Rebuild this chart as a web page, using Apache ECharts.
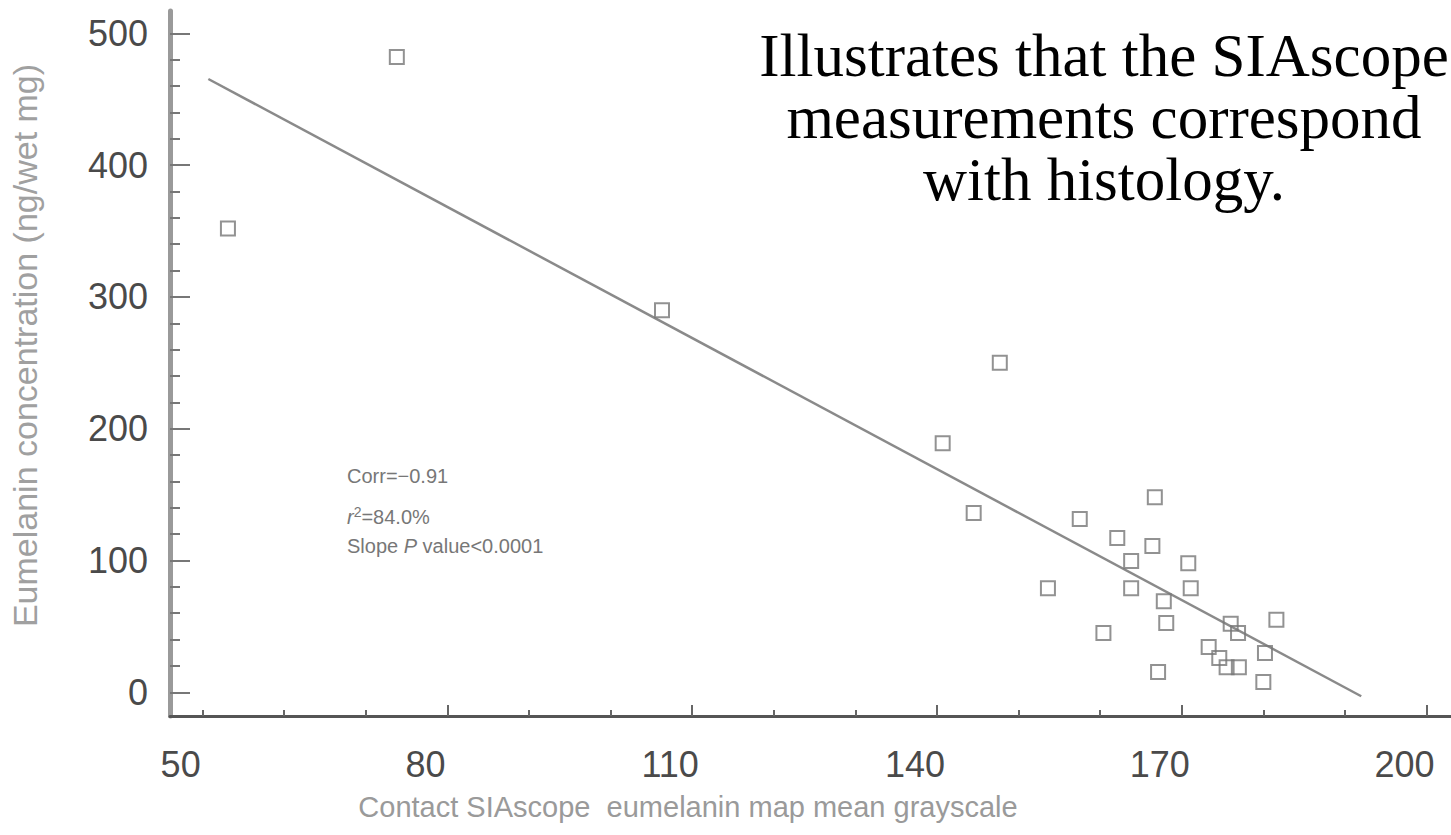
<!DOCTYPE html>
<html>
<head>
<meta charset="utf-8">
<title>SIAscope vs histology</title>
<script src="https://cdn.jsdelivr.net/npm/echarts@6/dist/echarts.min.js"></script>
<style>
  html, body { margin: 0; padding: 0; background: #fff; }
  #main { width: 1451px; height: 835px; }
</style>
</head>
<body>
<div id="main"></div>
<script>
// grayscale (x) and eumelanin concentration (y)
const xVals = [53.1, 73.8, 106.3, 147.7, 140.7, 144.5, 166.7, 157.5, 162.1, 166.4,
  163.8, 170.8, 153.6, 163.8, 171.1, 167.8, 168.1, 181.6, 160.4, 176.0,
  176.9, 173.3, 180.2, 174.6, 175.5, 177.0, 167.1, 180.0];
const yVals = [352, 482, 290, 250, 189, 136, 148, 131.5, 117, 111,
  99.6, 98, 79, 79, 79, 69, 52.6, 55, 45, 52,
  45, 34.4, 29.8, 26, 19, 19, 15.4, 7.8];

// fitted regression line ends
const fitX = [50.7, 192];
const fitY = [465.4, -3];

const xLabelValues = [50, 80, 110, 140, 170, 200];
const xMinorTicks = [50, 60, 70, 80, 90, 100, 110, 120, 130, 140, 150, 160, 170, 180, 190, 200];
const xMajorTicks = [80, 110, 140, 170, 200];
const yLabelValues = [0, 100, 200, 300, 400, 500];
const yMinorTicks = [0, 20, 40, 60, 80, 100, 120, 140, 160, 180, 200, 220, 240, 260, 280,
  300, 320, 340, 360, 380, 400, 420, 440, 460, 480, 500];

const stats = ['Corr=\u22120.91', '{i|r}{sup|2}=84.0%', 'Slope {i|P} value<0.0001'];
const titleLines = ['Illustrates that the SIAscope', 'measurements correspond', 'with histology.'];

const points = xVals.map(function (x, i) { return [x, yVals[i]]; });
const fitLine = fitX.map(function (x, i) { return [x, fitY[i]]; });

const chart = echarts.init(document.getElementById('main'), null, { renderer: 'svg' });

const sans = 'Liberation Sans, Arial, sans-serif';
const xRange = { min: 46, max: 203 };
const yRange = { min: -18, max: 517 };

const option = {
  backgroundColor: '#fff',
  animation: false,
  grid: { left: 170, right: 0, top: 11, bottom: 119 },
  xAxis: [{
    type: 'value',
    min: xRange.min, max: xRange.max,
    name: 'Contact SIAscope  eumelanin map mean grayscale',
    nameLocation: 'middle',
    nameGap: 76,
    nameTextStyle: { color: '#9a9a9a', fontSize: 29, fontFamily: sans, padding: [0, 245, 0, 0] },
    axisLine: { onZero: false, lineStyle: { color: '#555', width: 3 } },
    axisTick: { inside: true, length: 6, customValues: xMinorTicks, lineStyle: { color: '#666', width: 2 } },
    axisLabel: {
      customValues: xLabelValues, margin: 30,
      color: '#4a4a4a', fontSize: 36, fontFamily: sans, padding: [0, 44, 0, 0]
    },
    splitLine: { show: false }
  }, {
    type: 'value',
    min: xRange.min, max: xRange.max,
    position: 'bottom',
    axisLine: { show: false, onZero: false },
    axisTick: { inside: true, length: 11, customValues: xMajorTicks, lineStyle: { color: '#666', width: 2 } },
    axisLabel: { show: false },
    splitLine: { show: false }
  }],
  yAxis: [{
    type: 'value',
    min: yRange.min, max: yRange.max,
    name: 'Eumelanin concentration (ng/wet mg)',
    nameLocation: 'middle',
    nameRotate: 90,
    nameGap: 128,
    nameTextStyle: { color: '#a0a0a0', fontSize: 34, fontFamily: sans, padding: [0, 0, 0, 36] },
    axisLine: { onZero: false, lineStyle: { color: '#9a9a9a', width: 5 } },
    axisTick: { inside: true, length: 10, customValues: yMinorTicks, lineStyle: { color: '#777', width: 2 } },
    axisLabel: { customValues: yLabelValues, margin: 22, color: '#4a4a4a', fontSize: 36, fontFamily: sans },
    splitLine: { show: false }
  }, {
    type: 'value',
    min: yRange.min, max: yRange.max,
    position: 'left',
    axisLine: { show: false, onZero: false },
    axisTick: { inside: true, length: 20, customValues: yLabelValues, lineStyle: { color: '#777', width: 2 } },
    axisLabel: { show: false },
    splitLine: { show: false }
  }],
  graphic: [
    {
      type: 'text', x: 1104, y: 24, silent: true,
      style: {
        text: titleLines.join('\n'),
        textAlign: 'center', textVerticalAlign: 'top',
        font: '61px "Liberation Serif", "Times New Roman", serif',
        lineHeight: 62, fill: '#000'
      }
    },
    {
      type: 'text', x: 347, y: 466, silent: true,
      style: { text: stats[0], font: '20px ' + sans, fill: '#777' }
    },
    {
      type: 'text', x: 347, y: 505, silent: true,
      style: {
        text: stats[1], font: '20px ' + sans, fill: '#777',
        rich: {
          i: { fontStyle: 'italic', fontSize: 20, fontFamily: sans, color: '#777' },
          sup: { fontSize: 14, fontFamily: sans, color: '#777', verticalAlign: 'top', padding: [0, 0, 10, 0] }
        }
      }
    },
    {
      type: 'text', x: 347, y: 536, silent: true,
      style: {
        text: stats[2], font: '20px ' + sans, fill: '#777',
        rich: { i: { fontStyle: 'italic', fontSize: 20, fontFamily: sans, color: '#777' } }
      }
    }
  ],
  series: [{
    type: 'line',
    data: fitLine,
    showSymbol: false,
    symbol: 'none',
    lineStyle: { color: '#8a8a8a', width: 2.5 },
    z: 2
  }, {
    type: 'scatter',
    data: points,
    symbol: 'rect',
    symbolSize: 14,
    itemStyle: { color: 'rgba(255,255,255,0)', borderColor: '#777', borderWidth: 2 },
    z: 3
  }]
};

chart.setOption(option);
</script>
</body>
</html>
